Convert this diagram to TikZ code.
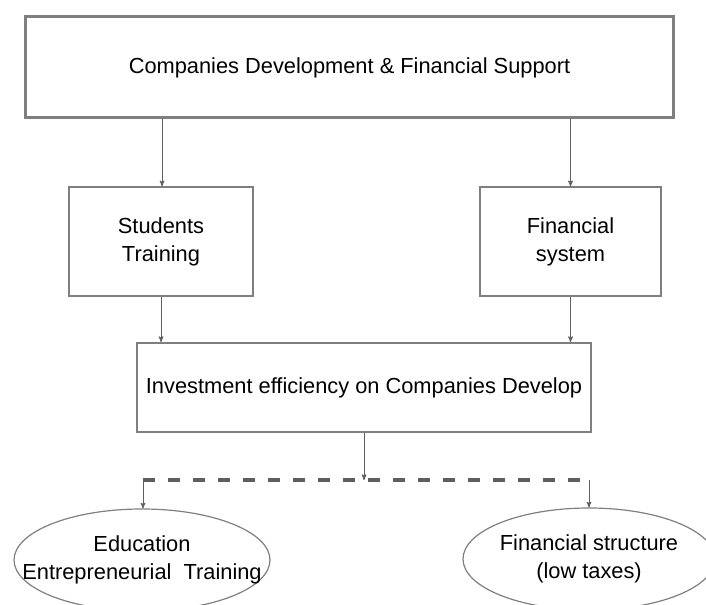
\documentclass[tikz,border=0pt]{standalone}
\usepackage{fontspec}
\setmainfont{Liberation Sans}
\usepackage{xcolor}
\usetikzlibrary{arrows, arrows.meta}
\usetikzlibrary{shapes.geometric}
\usetikzlibrary{positioning}
\usetikzlibrary{calc}
\definecolor{boxgray}{HTML}{7F7F7F}
\definecolor{linegray}{HTML}{5F5F5F}

\begin{document}
\begin{tikzpicture}[>=stealth', x=1bp, y=-1bp,
		txt/.style={font=\fontsize{21.9pt}{28.1pt}\selectfont, align=center},
		box/.style={txt, draw=boxgray, line width=1.5bp, rectangle, inner sep=0pt},
		oval/.style={draw=boxgray, line width=1.2bp, ellipse, inner sep=0pt},
		link/.style={->, draw=linegray, line width=1bp}]
				\useasboundingbox (0,0) rectangle (706,605);
				
				% Draw the boxes
				\node[box, line width=3bp, minimum width=647bp, minimum height=101bp] (support) at (349.5,67.5) {Companies Development \& Financial Support};
				\node[box, minimum width=184bp, minimum height=109bp] (students) at (161,241.5) {Students\\Training};
				\node[box, minimum width=181bp, minimum height=109bp] (finsys) at (570.5,241.5) {Financial\\system};
				\node[box, line width=2bp, minimum width=454bp, minimum height=89bp] (invest) at (364,387.5) {Investment efficiency on Companies Develop};
				
				% Draw the two ellipses
				\node[oval, minimum width=256bp, minimum height=102bp, label={[txt]center:Education\\Entrepreneurial\ \ Training}] (edu) at (142,560) {};
				\node[oval, minimum width=252bp, minimum height=102bp, label={[txt]center:Financial structure\\(low taxes)}] (structure) at (589,559) {};
				
				% Draw the arrows
				\draw[link] (support.south -| 162,0) -- (students.north -| 162,0);
				\draw[link] (support.south -| finsys) -- (finsys.north);
				\draw[link] (students.south) -- (invest.north -| students);
				\draw[link] (finsys.south) -- (invest.north -| finsys);
				
				% Draw the split
				\coordinate (split) at (364,480);
				\coordinate (left) at (143,480);
				\coordinate (right) at (589,480);
				\draw[link] (invest.south) -- (split);
				\draw[linegray, line width=4bp, dash pattern=on 12bp off 13bp] (left) -- (right);
				\draw[link] (left) -- (edu.north -| left);
				\draw[link] (right) -- (structure.north);
			\end{tikzpicture}
\end{document}
